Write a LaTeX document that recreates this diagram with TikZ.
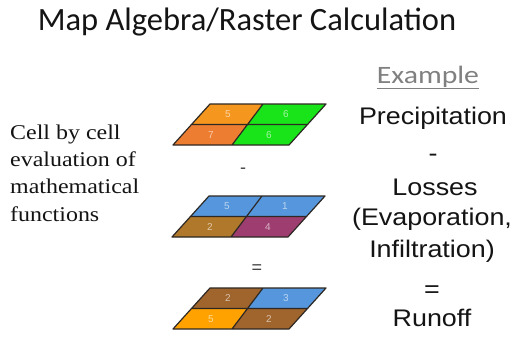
\documentclass[tikz,border=0pt]{standalone}
\usepackage{fontspec}
\setmainfont{Liberation Serif}
\newfontfamily\titlefont{Carlito}
\newfontfamily\examplefont[FakeStretch=1.19]{Carlito}
\newfontfamily\rightfont[FakeStretch=1.12]{Liberation Sans}
\newfontfamily\leftfont[FakeStretch=1.14]{Liberation Serif}
\newfontfamily\opfont{Liberation Sans}
\definecolor{porange}{RGB}{245,150,30}
\definecolor{porange2}{RGB}{237,125,49}
\definecolor{pgreen}{RGB}{25,228,25}
\definecolor{lblue}{RGB}{85,150,220}
\definecolor{lochre}{RGB}{176,120,42}
\definecolor{lpurple}{RGB}{158,62,112}
\definecolor{rbrown}{RGB}{160,100,45}
\definecolor{rorange}{RGB}{255,162,0}
\definecolor{gridline}{RGB}{45,40,35}
\definecolor{txt}{RGB}{20,20,20}
\definecolor{exgray}{RGB}{128,128,128}
\tikzset{
  gridedge/.style={draw=gridline, line width=1.2pt, line join=round},
  cellnum/.style={text=white, opacity=0.6, font=\opfont\fontsize{10}{12}\selectfont, inner sep=0pt},
  rtext/.style={anchor=base, text=txt, font=\rightfont\fontsize{24}{28}\selectfont, inner sep=0pt},
  optext/.style={anchor=base, text=black!75, font=\opfont\fontsize{18}{20}\selectfont, inner sep=0pt}
}
\newcommand\rgrid[9]{%
\begin{scope}[#1]
\coordinate (BL) at (0,0); \coordinate (BR) at (116,0);
\coordinate (TL) at (37,-41); \coordinate (TR) at (153,-41);
\coordinate (ML) at (18.5,-20.5); \coordinate (MR) at (134.5,-20.5);
\coordinate (DB) at (59,0); \coordinate (DT) at (90,-41); \coordinate (DM) at (74.5,-20.5);
\fill[#2] (ML)--(DM)--(DT)--(TL)--cycle;
\fill[#3] (DM)--(MR)--(TR)--(DT)--cycle;
\fill[#4] (BL)--(DB)--(DM)--(ML)--cycle;
\fill[#5] (DB)--(BR)--(MR)--(DM)--cycle;
\draw[gridedge] (BL)--(BR)--(TR)--(TL)--cycle (ML)--(MR) (DB)--(DT);
\node[cellnum] (n1) at (55,-30.75) {#6};
\node[cellnum] (n2) at (113,-30.75) {#7};
\node[cellnum] (n3) at (38,-10.25) {#8};
\node[cellnum] (n4) at (96,-10.25) {#9};
\end{scope}}
\begin{document}
\begin{tikzpicture}[x=1pt,y=-1pt]
\path[use as bounding box, fill=white] (0,0) rectangle (516,338);
% title
\node[anchor=base, text=txt, font=\titlefont\fontsize{32.5}{38}\selectfont, inner sep=0pt] (title) at (247,30) {Map Algebra/Raster Calculation};
% left text (base = last line)
\node[anchor=base west, align=left, text=txt, font=\leftfont\fontsize{21}{27.3}\selectfont, inner sep=0pt] (desc) at (10,221)
  {Cell by cell\\evaluation of\\mathematical\\functions};
% grids
\rgrid{shift={(173,145)}, name prefix=p-}{porange}{pgreen}{porange2}{pgreen}{5}{6}{7}{6}
\rgrid{shift={(172,237)}, name prefix=l-}{lblue}{lblue}{lochre}{lpurple}{5}{1}{2}{4}
\rgrid{shift={(173,329)}, name prefix=r-}{rbrown}{lblue}{rorange}{rbrown}{2}{3}{5}{2}
\node[optext] (minus1) at (243,173) {-};
\node[optext] (eq1) at (257,273) {=};
% right column
\node[anchor=base, text=exgray, font=\examplefont\fontsize{25}{30}\selectfont, inner sep=0pt] (ex) at (428,83) {Example};
\draw[exgray, line width=1pt] ([yshift=-5.5pt]ex.base west) -- ([yshift=-5.5pt]ex.base east);
\node[rtext] (prec) at (433,124) {Precipitation};
\node[rtext] (minus2) at (433,161) {-};
\node[rtext] (loss) at (435,195) {Losses};
\node[rtext] (evap) at (432,225) {(Evaporation,};
\node[rtext] (infl) at (432,257) {Infiltration)};
\node[rtext] (eq2) at (432,297) {=};
\node[rtext] (run) at (432,326) {Runoff};
\end{tikzpicture}
\end{document}
